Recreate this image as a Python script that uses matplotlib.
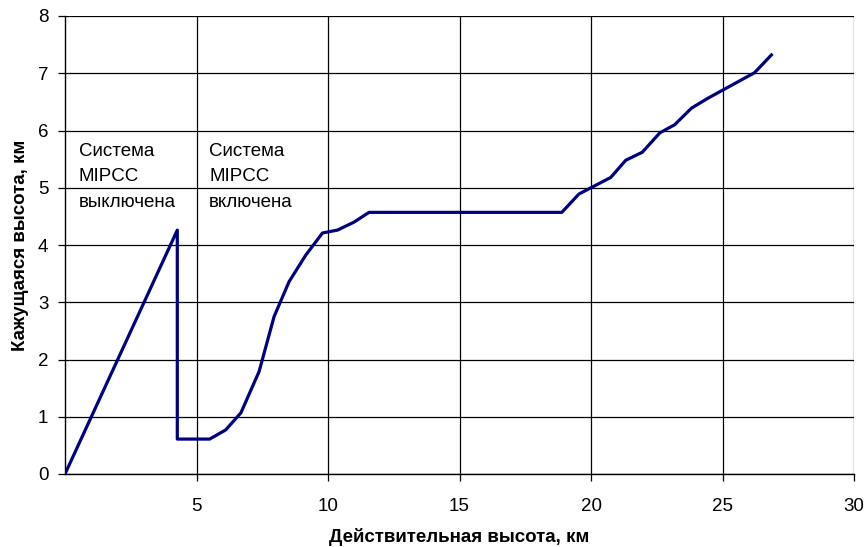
import matplotlib
matplotlib.use("Agg")
import matplotlib.pyplot as plt

plt.rcParams['font.family'] = ['Liberation Sans', 'DejaVu Sans']

# Data
real_alt = [0, 4.27, 4.27, 5.50, 6.11, 6.69, 7.38, 7.95, 8.52, 9.15, 9.79, 10.36,
            10.99, 11.56, 18.89, 19.54, 20.75, 21.32, 21.95, 22.62, 23.18, 23.82,
            24.43, 26.22, 26.86]
app_alt = [0, 4.26, 0.61, 0.61, 0.77, 1.07, 1.79, 2.75, 3.36, 3.82, 4.21, 4.26,
           4.40, 4.57, 4.57, 4.89, 5.18, 5.48, 5.62, 5.96, 6.10, 6.39,
           6.56, 7.01, 7.32]
x_ticks = [5, 10, 15, 20, 25, 30]
y_ticks = [0, 1, 2, 3, 4, 5, 6, 7, 8]
label_off = ["Система", "MIPCC", "выключена"]
label_on = ["Система", "MIPCC", "включена"]

fig = plt.figure(figsize=(8.68, 5.47), dpi=100)
ax = fig.add_axes([65/868, 1-474/547, (854-65)/868, (474-16)/547])

ax.plot(real_alt, app_alt, color='#000080', lw=2.3, solid_joinstyle='round', zorder=3)

ax.set_xlim(0, 30)
ax.set_ylim(0, 8)
ax.set_xticks(x_ticks)
ax.set_yticks(y_ticks)
ax.grid(True, color='black', lw=0.9)
for s in ['top', 'right']:
    ax.spines[s].set_visible(False)
for s in ['left', 'bottom']:
    ax.spines[s].set_color('black')
    ax.spines[s].set_linewidth(1.0)
ax.tick_params(direction='out', length=5, width=0.9, labelsize=13.5, colors='black')
ax.tick_params(axis='x', pad=12)
ax.tick_params(axis='y', pad=7)

ax.set_xlabel("Действительная высота, км", fontsize=13.5, fontweight='bold', labelpad=10)
ax.set_ylabel("Кажущаяся высота, км", fontsize=13.5, fontweight='bold', labelpad=6)

ys = [5.55, 5.11, 4.67]
for t, y in zip(label_off, ys):
    ax.text(0.53, y, t, fontsize=13.5, va='baseline', ha='left')
for t, y in zip(label_on, ys):
    ax.text(5.48, y, t, fontsize=13.5, va='baseline', ha='left')

fig.savefig("out.png", dpi=100)
